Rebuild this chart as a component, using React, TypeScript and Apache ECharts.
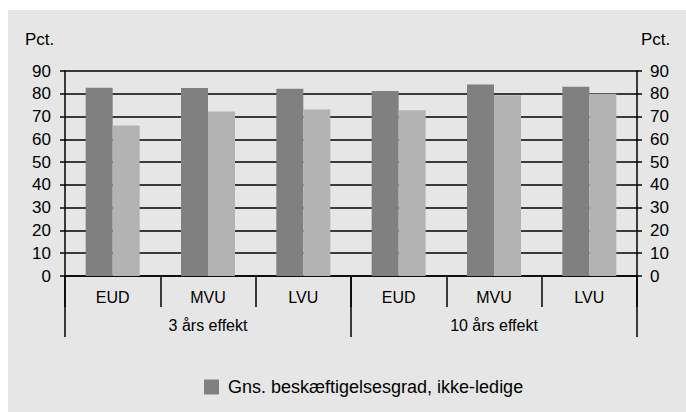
import React, { useEffect, useRef } from "react";
import * as echarts from "echarts";

const categories = ["EUD", "MVU", "LVU", "EUD", "MVU", "LVU"];
const groups = ["3 års effekt", "10 års effekt"];
const seriesNames = ["Gns. beskæftigelsesgrad, ikke-ledige", "Gns. beskæftigelsesgrad, ledige"];
const darkValues = [82.7, 82.5, 82.2, 81.2, 84.1, 83.1];
const lightValues = [66.1, 72.2, 73.1, 72.8, 79.3, 80.0];
const yMin = 0;
const yMax = 90;
const yInterval = 10;
const unitLabel = "Pct.";

const FONT = "'Liberation Sans', Arial, sans-serif";

export default function App() {
  const ref = useRef<HTMLDivElement>(null);
  useEffect(() => {
    if (!ref.current) return;
    const chart = echarts.init(ref.current, undefined, { renderer: "svg" });
    const lineStyle = { color: "#000", width: 1.5 };
    const yAxisCommon = {
      type: "value",
      min: yMin,
      max: yMax,
      interval: yInterval,
      axisLine: { show: true, lineStyle },
      axisTick: { show: true, length: 5, lineStyle },
      axisLabel: { color: "#000", fontSize: 17, fontFamily: FONT },
    };
    chart.setOption({
      animation: false,
      backgroundColor: "#e6e6e6",
      textStyle: { fontFamily: FONT },
      grid: { left: 57, right: 49, top: 61, bottom: 136, containLabel: false },
      xAxis: [
        {
          type: "category",
          data: categories,
          position: "bottom",
          axisLine: { show: true, lineStyle, onZero: false },
          axisTick: { show: true, interval: 0, length: 31, lineStyle, inside: false },
          axisLabel: { color: "#000", fontSize: 16, fontFamily: FONT, margin: 13, interval: 0 },
          splitLine: { show: false },
        },
        {
          type: "category",
          data: groups,
          position: "bottom",
          axisLine: { show: false },
          axisTick: { show: true, interval: 0, length: 61, lineStyle },
          axisLabel: { color: "#000", fontSize: 16, fontFamily: FONT, margin: 41, interval: 0 },
          splitLine: { show: false },
        },
      ],
      yAxis: [
        {
          ...yAxisCommon,
          position: "left",
          axisLabel: { ...yAxisCommon.axisLabel, margin: 14 },
          splitLine: { show: true, lineStyle },
        },
        {
          ...yAxisCommon,
          position: "right",
          axisLabel: { ...yAxisCommon.axisLabel, margin: 13 },
          splitLine: { show: false },
        },
      ],
      legend: {
        data: [seriesNames[0]],
        left: 196,
        top: 368,
        padding: 0,
        icon: "rect",
        itemWidth: 15,
        itemHeight: 15,
        itemGap: 10,
        textStyle: { color: "#000", fontSize: 18, fontFamily: FONT, padding: [0, 0, 0, 4] },
      },
      graphic: [
        {
          type: "text",
          left: 17,
          top: 21,
          style: { text: unitLabel, fill: "#000", font: `17px ${FONT}` },
        },
        {
          type: "text",
          left: 633,
          top: 21,
          style: { text: unitLabel, fill: "#000", font: `17px ${FONT}` },
        },
      ],
      series: [
        {
          name: seriesNames[0],
          type: "bar",
          data: darkValues,
          barWidth: 27,
          barGap: "0%",
          itemStyle: { color: "#808080" },
          xAxisIndex: 0,
          yAxisIndex: 0,
        },
        {
          name: seriesNames[1],
          type: "bar",
          data: lightValues,
          barWidth: 27,
          barGap: "0%",
          itemStyle: { color: "#b3b3b3" },
          xAxisIndex: 0,
          yAxisIndex: 0,
        },
      ],
    });
    return () => chart.dispose();
  }, []);
  return (
    <div
      ref={ref}
      style={{ position: "absolute", left: 8, top: 10, width: 678, height: 402 }}
    />
  );
}
